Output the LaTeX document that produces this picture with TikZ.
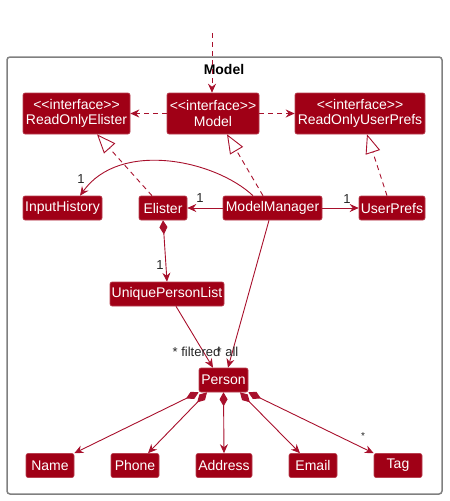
\documentclass[tikz,border=0pt]{standalone}
\usepackage{fontspec}
\setmainfont{Liberation Sans}
\usetikzlibrary{arrows.meta,calc}
\definecolor{umlred}{HTML}{A00016}
\definecolor{umlline}{HTML}{A8102C}
\definecolor{framegray}{HTML}{808080}
\begin{document}
\begin{tikzpicture}[x=1pt,y=-1pt,
  cls/.style={fill=umlred, draw=umlred!75!white, line width=0.6pt, rounded corners=2pt, text=white,
    font=\fontsize{14}{15.5}\selectfont, inner sep=0pt, minimum height=24pt, align=center},
  iface/.style={cls, minimum height=41pt},
  edge/.style={draw=umlline, line width=0.9pt},
  tipA/.tip={Stealth[length=9pt,width=8pt,inset=3pt]},
  dep/.style={edge, dash pattern=on 5pt off 4pt, -tipA},
  real/.style={edge, dash pattern=on 5pt off 4pt, -{Triangle[open,length=19pt,width=15pt,fill=white]}},
  assoc/.style={edge, -tipA},
  comp/.style={edge, {Diamond[length=14pt,width=8pt]}-tipA},
  lbl/.style={font=\fontsize{13}{13}\selectfont, text=black!85, inner sep=0pt},
  small/.style={font=\fontsize{10}{10}\selectfont, text=black!85, inner sep=0pt}
]
\useasboundingbox (0,0) rectangle (450,501);
\draw[framegray, line width=1.5pt, rounded corners=3pt] (7,57) rectangle (442,494);
\node[font=\bfseries\fontsize{14}{14}\selectfont, inner sep=0pt] (title) at (224,69) {Model};

% interfaces
\node[iface, minimum width=107pt] (roe) at (76.5,113.5) {<{}<interface>{}>\\ReadOnlyElister};
\node[iface, minimum width=92pt] (model) at (213,113.5) {<{}<interface>{}>\\Model};
\node[iface, minimum width=130pt] (rup) at (360,113.5) {<{}<interface>{}>\\ReadOnlyUserPrefs};

% classes
\node[cls, minimum width=79pt] (ih) at (62.5,208) {InputHistory};
\node[cls, minimum width=48pt] (el) at (163,208) {Elister};
\node[cls, minimum width=99pt] (mm) at (272.5,208) {ModelManager};
\node[cls, minimum width=66pt] (up) at (392,208) {UserPrefs};
\node[cls, minimum width=114pt] (upl) at (167,294) {UniquePersonList};
\node[cls, minimum width=49pt] (person) at (223.5,380) {Person};

\node[cls, minimum width=48pt] (name) at (50,465.5) {Name};
\node[cls, minimum width=48pt] (phone) at (135,465.5) {Phone};
\node[cls, minimum width=56pt] (addr) at (224,465.5) {Address};
\node[cls, minimum width=48pt] (email) at (313,465.5) {Email};
\node[cls, minimum width=48pt] (tag) at (398,465.5) {Tag};

% external dependency
\coordinate (ext) at (212,33);
\draw[dep] (ext) -- ([xshift=-1pt]model.north);

% dependencies of Model interface
\draw[dep] (model.west) -- (roe.east);
\draw[dep] (model.east) -- (rup.west);

% realizations
\draw[real] ([xshift=-11pt]el.north) -- ([xshift=20.5pt]roe.south);
\draw[real] ([xshift=-9.5pt]mm.north) -- ([xshift=14pt]model.south);
\draw[real] ([xshift=-5pt]up.north) -- ([xshift=7pt]rup.south);

% associations from ModelManager
\draw[assoc] ([xshift=-19.5pt]mm.north) .. controls (215,160) and (120,140) .. ([xshift=17.5pt]ih.north);
\node[lbl] at (81,179) {1};
\draw[assoc] (mm.west) -- (el.east);
\node[lbl] at (200,198) {1};
\draw[assoc] (mm.east) -- (up.west);
\node[lbl] at (347,199) {1};

% Elister composition
\draw[comp] (el.south) -- (upl.north);
\node[lbl] at (160,265) {1};

% to Person
\draw[assoc] ([xshift=9pt]upl.south) -- ([xshift=-10.5pt]person.north);
\draw[assoc] ([xshift=-3.5pt]mm.south) -- ([xshift=4.5pt]person.north);
\node[lbl] at (196.5,352) {* filtered};
\node[lbl] at (227.5,352) {* all};

% Person compositions
\draw[comp] (person.south west) -- (name.north east);
\draw[comp] ([xshift=-16.5pt]person.south) -- ([xshift=13pt]phone.north);
\draw[comp] (person.south) -- (addr.north);
\draw[comp] ([xshift=16.5pt]person.south) -- ([xshift=-13pt]email.north);
\draw[comp] (person.south east) -- (tag.north west);
\node[small] at (363,436) {*};
\end{tikzpicture}
\end{document}
